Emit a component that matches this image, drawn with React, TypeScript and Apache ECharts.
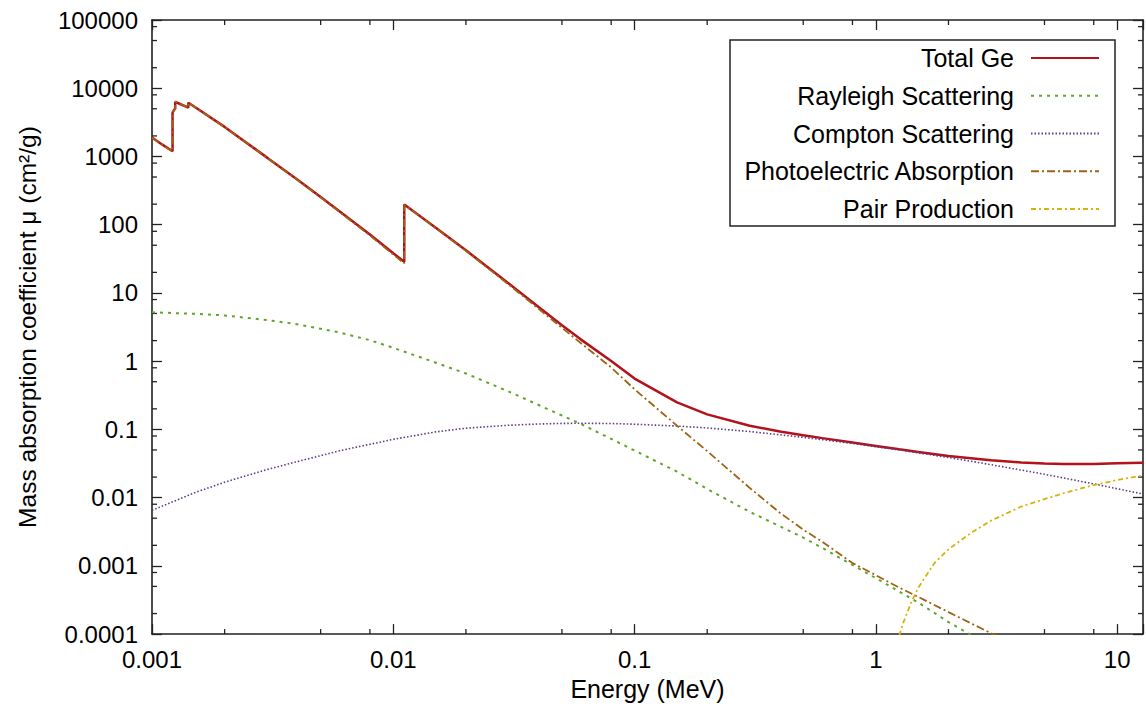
import React, { useEffect, useRef } from "react";
import * as echarts from "echarts";

// Energies (MeV) and mass attenuation values (cm^2/g)
const E_TOTAL = [0.001, 0.0011, 0.0012167, 0.0012167, 0.00123215, 0.0012478, 0.0012478, 0.0013, 0.0014143, 0.0014143, 0.0015, 0.002, 0.003, 0.004, 0.005, 0.006, 0.008, 0.01, 0.0111031, 0.0111031, 0.015, 0.02, 0.03, 0.04, 0.05, 0.06, 0.08, 0.1, 0.15, 0.2, 0.3, 0.4, 0.5, 0.6, 0.8, 1, 1.25, 1.5, 2, 3, 4, 5, 6, 8, 10, 12.8];
const MU_TOTAL = [1893, 1502, 1190, 4389, 4734, 5050, 6300, 5920, 5200, 6140, 5340, 2711, 961.3, 458.1, 254.3, 156.0, 71.69, 38.17, 28.55, 198.1, 90.32, 42.14, 13.85, 6.203, 3.362, 2.07, 1.005, 0.555, 0.2491, 0.1661, 0.1131, 0.09327, 0.08212, 0.07452, 0.06426, 0.05727, 0.05101, 0.04657, 0.04086, 0.03524, 0.03275, 0.03158, 0.0311, 0.03118, 0.03195, 0.0325];

const E_SCATTER = [0.001, 0.0015, 0.002, 0.003, 0.004, 0.005, 0.006, 0.008, 0.01, 0.015, 0.02, 0.03, 0.04, 0.05, 0.06, 0.08, 0.1, 0.15, 0.2, 0.3, 0.4, 0.5, 0.6, 0.8, 1, 1.25, 1.5, 2, 3, 4, 5, 6, 8, 10, 12.8];
const MU_RAYLEIGH = [5.2, 4.95, 4.68, 4.0, 3.48, 2.98, 2.63, 2.03, 1.57, 0.95, 0.66, 0.36, 0.228, 0.16, 0.12, 0.0726, 0.049, 0.024, 0.0134, 0.0062, 0.0038, 0.0026, 0.00183, 0.00103, 0.00066, 0.00042, 0.00029, 0.00015, 0.000066, 0.000037, 0.000024, 0.0000165, 0.0000093, 0.000006, 0.0000036];
const MU_COMPTON = [0.0065, 0.0118, 0.0168, 0.0258, 0.0338, 0.0412, 0.0487, 0.0605, 0.0715, 0.092, 0.104, 0.115, 0.12, 0.1225, 0.123, 0.122, 0.119, 0.112, 0.105, 0.093, 0.0835, 0.0765, 0.0708, 0.0622, 0.0558, 0.05, 0.0454, 0.0387, 0.0304, 0.0254, 0.022, 0.0194, 0.0159, 0.0135, 0.0113];

const E_PHOTO = [0.001, 0.0011, 0.0012167, 0.0012167, 0.00123215, 0.0012478, 0.0012478, 0.0013, 0.0014143, 0.0014143, 0.0015, 0.002, 0.003, 0.004, 0.005, 0.006, 0.008, 0.01, 0.0111031, 0.0111031, 0.015, 0.02, 0.03, 0.04, 0.05, 0.06, 0.08, 0.1, 0.15, 0.2, 0.3, 0.4, 0.5, 0.6, 0.8, 1, 1.25, 1.5, 2, 3, 4];
const MU_PHOTO = [1888, 1497, 1185, 4384, 4729, 5045, 6295, 5915, 5195, 6135, 5335, 2706, 957, 454.6, 251.3, 153.3, 69.6, 36.5, 27.1, 196.7, 89.3, 41.4, 13.38, 5.86, 3.08, 1.83, 0.81, 0.387, 0.113, 0.048, 0.0139, 0.006, 0.0034, 0.00225, 0.0011, 0.00073, 0.00048, 0.00035, 0.00021, 0.000103, 0.000068];

const E_PAIR = [1.25, 1.3, 1.4, 1.5, 1.75, 2, 2.5, 3, 4, 5, 6, 8, 10, 12.8];
const MU_PAIR = [0.000095, 0.000147, 0.00029, 0.00048, 0.0011, 0.00175, 0.0031, 0.0046, 0.0074, 0.0095, 0.0116, 0.0153, 0.0181, 0.0212];

const X_MIN = 0.001;
const X_MAX = 12.8;
const Y_MIN = 0.0001;
const Y_MAX = 100000;
const X_MINOR_TICKS = [0.002, 0.005, 0.008, 0.02, 0.05, 0.08, 0.2, 0.5, 0.8, 2, 5, 8];
const Y_MINOR_TICKS = [0.0002, 0.0005, 0.0008, 0.002, 0.005, 0.008, 0.02, 0.05, 0.08, 0.2, 0.5, 0.8, 2, 5, 8, 20, 50, 80, 200, 500, 800, 2000, 5000, 8000, 20000, 50000, 80000];

const FONT = "'Liberation Sans', Arial, Helvetica, sans-serif";
const AXIS_COLOR = "#222";

function zip(xs: number[], ys: number[]) {
  return xs.map((x, i) => [x, ys[i]]);
}

function powLabel(v: number): string {
  const l = Math.log10(v);
  const e = Math.round(l);
  if (Math.abs(l - e) > 1e-6) return "";
  if (e >= 0) return String(Math.pow(10, e));
  return "0." + "0".repeat(-e - 1) + "1";
}

export default function App() {
  const ref = useRef<HTMLDivElement>(null);
  useEffect(() => {
    if (!ref.current) return;
    const chart = echarts.init(ref.current, null, { renderer: "svg" });
    const tickStyle = { stroke: AXIS_COLOR, lineWidth: 1.3 };
    const baseAxisLine = { show: true, lineStyle: { color: AXIS_COLOR, width: 1.6 } };
    const xAxisCommon = {
      type: "log" as const,
      logBase: 10,
      min: X_MIN,
      max: X_MAX,
      splitLine: { show: false },
      axisLine: baseAxisLine,
      axisTick: { inside: true, length: 10, lineStyle: { color: AXIS_COLOR, width: 1.3 } },
    };
    const yAxisCommon = {
      type: "log" as const,
      logBase: 10,
      min: Y_MIN,
      max: Y_MAX,
      splitLine: { show: false },
      axisLine: baseAxisLine,
      axisTick: { inside: true, length: 10, lineStyle: { color: AXIS_COLOR, width: 1.3 } },
    };
    chart.setOption({
      animation: false,
      backgroundColor: "#fff",
      textStyle: { fontFamily: FONT },
      grid: { left: 152, right: 2, top: 20, bottom: 66, containLabel: false },
      xAxis: [
        {
          ...xAxisCommon,
          position: "bottom",
          name: "Energy (MeV)",
          nameLocation: "middle",
          nameGap: 37,
          nameTextStyle: { fontSize: 25, color: "#000", fontFamily: FONT },
          axisLabel: { fontSize: 24, color: "#000", fontFamily: FONT, margin: 13, formatter: powLabel },
        },
        {
          ...xAxisCommon,
          position: "top",
          axisLabel: { show: false },
        },
      ],
      yAxis: [
        {
          ...yAxisCommon,
          position: "left",
          name: "Mass absorption coefficient μ (cm²/g)",
          nameLocation: "middle",
          nameGap: 112,
          nameTextStyle: { fontSize: 24.5, color: "#000", fontFamily: FONT },
          axisLabel: { fontSize: 24, color: "#000", fontFamily: FONT, margin: 14, formatter: powLabel },
        },
        {
          ...yAxisCommon,
          position: "right",
          axisLabel: { show: false },
        },
      ],
      legend: {
        orient: "vertical",
        right: 31,
        top: 40,
        align: "right",
        itemWidth: 68,
        itemHeight: 14,
        itemGap: 11.75,
        padding: [5, 15, 4, 13],
        borderColor: AXIS_COLOR,
        borderWidth: 1.5,
        backgroundColor: "#fff",
        selectedMode: false,
        itemStyle: { opacity: 0 },
        textStyle: { fontSize: 25, color: "#000", fontFamily: FONT, lineHeight: 26, padding: [0, 12, 0, 0] },
        data: ["Total Ge", "Rayleigh Scattering", "Compton Scattering", "Photoelectric Absorption", "Pair Production"],
      },
      series: [
        {
          name: "Total Ge",
          type: "line",
          data: zip(E_TOTAL, MU_TOTAL),
          symbol: "none",
          lineStyle: { color: "#b3121b", width: 2.5 },
          itemStyle: { color: "#b3121b" },
        },
        {
          name: "Rayleigh Scattering",
          type: "line",
          data: zip(E_SCATTER, MU_RAYLEIGH),
          symbol: "none",
          lineStyle: { color: "#5ea62a", width: 2, type: [3, 5] },
          itemStyle: { color: "#5ea62a" },
        },
        {
          name: "Compton Scattering",
          type: "line",
          data: zip(E_SCATTER, MU_COMPTON),
          symbol: "none",
          lineStyle: { color: "#5e3a86", width: 1.6, type: [1.5, 2] },
          itemStyle: { color: "#5e3a86" },
        },
        {
          name: "Photoelectric Absorption",
          type: "line",
          data: zip(E_PHOTO, MU_PHOTO),
          symbol: "none",
          lineStyle: { color: "#9c6414", width: 1.8, type: [8, 3, 2, 3] },
          itemStyle: { color: "#9c6414" },
        },
        {
          name: "Pair Production",
          type: "line",
          data: zip(E_PAIR, MU_PAIR),
          symbol: "none",
          lineStyle: { color: "#d8b20a", width: 1.8, type: [5, 3, 2, 3] },
          itemStyle: { color: "#d8b20a" },
        },
        {
          type: "custom",
          silent: true,
          clip: false,
          data: X_MINOR_TICKS.map((v) => [v, Y_MIN]),
          renderItem: (params: any, api: any) => {
            const x = api.value(0);
            const b = api.coord([x, Y_MIN]);
            const t = api.coord([x, Y_MAX]);
            return {
              type: "group",
              children: [
                { type: "line", shape: { x1: b[0], y1: b[1], x2: b[0], y2: b[1] - 5 }, style: tickStyle },
                { type: "line", shape: { x1: t[0], y1: t[1], x2: t[0], y2: t[1] + 5 }, style: tickStyle },
              ],
            };
          },
        },
        {
          type: "custom",
          silent: true,
          clip: false,
          data: Y_MINOR_TICKS.map((v) => [X_MIN, v]),
          renderItem: (params: any, api: any) => {
            const y = api.value(1);
            const l = api.coord([X_MIN, y]);
            const r = api.coord([X_MAX, y]);
            return {
              type: "group",
              children: [
                { type: "line", shape: { x1: l[0], y1: l[1], x2: l[0] + 5, y2: l[1] }, style: tickStyle },
                { type: "line", shape: { x1: r[0], y1: r[1], x2: r[0] - 5, y2: r[1] }, style: tickStyle },
              ],
            };
          },
        },
      ],
    });
    return () => chart.dispose();
  }, []);
  return <div ref={ref} style={{ position: "fixed", left: 0, top: 0, width: 1146, height: 706 }} />;
}
